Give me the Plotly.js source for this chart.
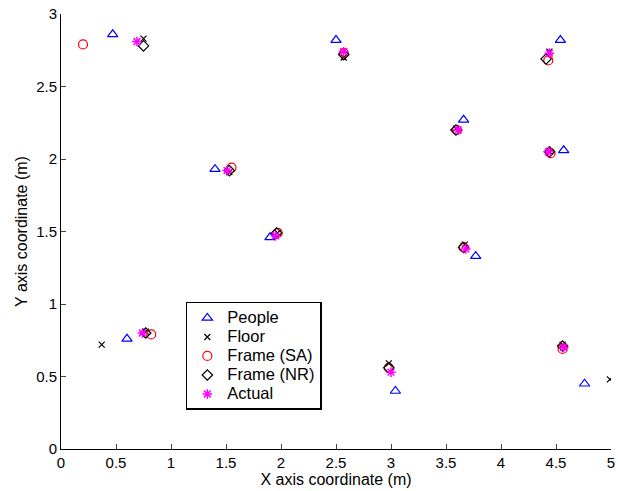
<!DOCTYPE html>
<html><head><meta charset="utf-8">
<script src="https://cdn.plot.ly/plotly-3.0.1.min.js"></script>
<style>html,body{margin:0;padding:0;background:#fff}#chart{width:618px;height:491px}</style>
</head><body><div id="chart"></div>
<script>
const seriesNames = ['People', 'Floor', 'Frame (SA)', 'Frame (NR)', 'Actual'];
const peopleX = [0.47, 1.40, 2.50, 3.66, 4.54, 4.57, 3.77, 1.90, 0.60, 3.04, 4.76];
const peopleY = [2.86, 1.93, 2.82, 2.27, 2.82, 2.06, 1.33, 1.46, 0.76, 0.40, 0.45];
const floorX = [0.75, 2.57, 1.53, 1.97, 3.59, 4.44, 4.44, 3.67, 0.37, 2.98, 4.56, 4.99, 0.77];
const floorY = [2.83, 2.70, 1.91, 1.49, 2.21, 2.74, 2.05, 1.41, 0.72, 0.59, 0.72, 0.48, 0.81];
const saX = [0.20, 2.57, 1.55, 1.97, 3.60, 4.43, 4.45, 3.66, 0.82, 2.98, 4.56];
const saY = [2.79, 2.73, 1.94, 1.49, 2.20, 2.68, 2.04, 1.39, 0.79, 0.56, 0.69];
const nrX = [0.75, 2.57, 1.53, 1.96, 3.59, 4.41, 4.44, 3.66, 0.77, 2.98, 4.56];
const nrY = [2.78, 2.72, 1.92, 1.49, 2.20, 2.69, 2.05, 1.39, 0.80, 0.56, 0.71];
const actX = [0.69, 2.57, 1.51, 1.95, 3.61, 4.44, 4.43, 3.68, 0.74, 3.00, 4.57];
const actY = [2.81, 2.74, 1.92, 1.47, 2.20, 2.73, 2.05, 1.38, 0.80, 0.53, 0.70];
const xTicks = [0, 0.5, 1, 1.5, 2, 2.5, 3, 3.5, 4, 4.5, 5];
const yTicks = [0, 0.5, 1, 1.5, 2, 2.5, 3];

const lg = n => '<span style="font-size:16.5px">' + n + '</span>';
const traces = [
  {name:lg(seriesNames[0]), x:peopleX, y:peopleY, mode:'markers', type:'scatter',
   marker:{symbol:'triangle-up-open', size:9, color:'#0000ff', line:{width:1.2}}},
  {name:lg(seriesNames[1]), x:floorX, y:floorY, mode:'markers', type:'scatter',
   marker:{symbol:'x-thin-open', size:6, color:'#000000', line:{width:1.2}}},
  {name:lg(seriesNames[2]), x:saX, y:saY, mode:'markers', type:'scatter',
   marker:{symbol:'circle-open', size:9, color:'#ff0000', line:{width:1.2}}},
  {name:lg(seriesNames[3]), x:nrX, y:nrY, mode:'markers', type:'scatter',
   marker:{symbol:'diamond-open', size:8, color:'#000000', line:{width:1.2}}},
  {name:lg(seriesNames[4]), x:actX, y:actY, mode:'markers', type:'scatter',
   marker:{symbol:'asterisk-open', size:8, color:'#ff00ff', line:{width:1.5}}}
];
const fam = 'Liberation Sans, Arial, sans-serif';
const tickF = {family:fam, size:15, color:'#000'};
const titleF = {family:fam, size:16, color:'#000'};
const layout = {
  width:618, height:491,
  margin:{l:61, r:7, t:14, b:42},
  paper_bgcolor:'#fff', plot_bgcolor:'#fff',
  font:tickF, showlegend:true,
  xaxis:{range:[0,5], tickvals:xTicks, ticktext:xTicks.map(String), ticks:'inside', ticklen:5,
    ticklabeloverflow:'allow', automargin:false,
    showline:true, linecolor:'#000', linewidth:1, showgrid:false, zeroline:false,
    tickfont:tickF, title:{text:'X axis coordinate (m)', font:titleF, standoff:0}},
  yaxis:{range:[0,3], tickvals:yTicks, ticktext:yTicks.map(String), ticks:'inside', ticklen:5,
    ticklabeloverflow:'allow', automargin:false,
    showline:true, linecolor:'#000', linewidth:1, showgrid:false, zeroline:false,
    tickfont:tickF, title:{text:'Y axis coordinate (m)', font:titleF, standoff:4}},
  legend:{x:0.227, y:0.338, xanchor:'left', yanchor:'top', bgcolor:'#fff',
    bordercolor:'#000', borderwidth:1.5, font:{family:fam, size:12, color:'#000'},
    tracegroupgap:0, itemwidth:30}
};
Plotly.newPlot('chart', traces, layout, {displayModeBar:false, staticPlot:true});
</script></body></html>
